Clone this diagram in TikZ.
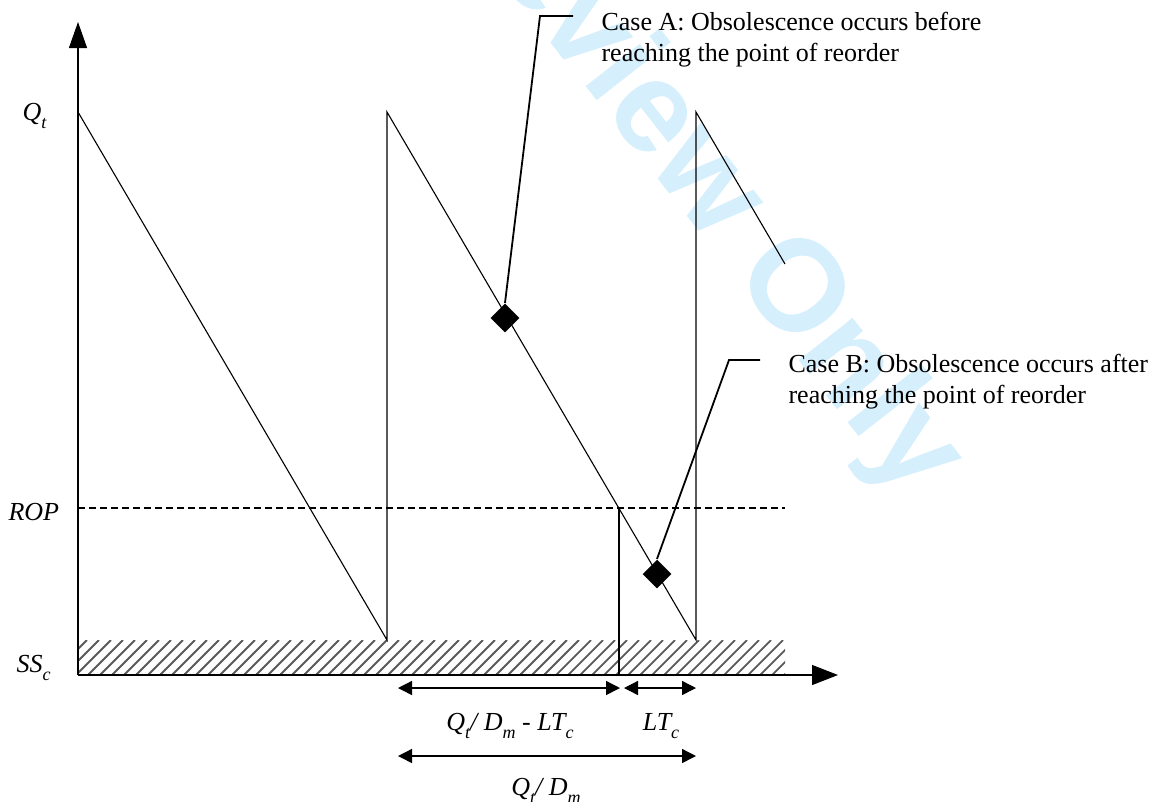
\documentclass[tikz,border=0pt]{standalone}
\usepackage{fontspec}
\setmainfont{Liberation Serif}
\newfontfamily\wmfont{Liberation Sans}
\usetikzlibrary{arrows.meta,shapes.geometric}
\definecolor{wmblue}{RGB}{213,239,252}
\newcommand{\lsub}[1]{\raisebox{-0.32em}{\fontsize{18}{18}\selectfont #1}}
\begin{document}
\begin{tikzpicture}[x=1pt,y=-1pt,line width=1.1pt,
  lbl/.style={font=\fontsize{26}{31}\selectfont\itshape,inner sep=0},
  note/.style={font=\fontsize{26}{31}\selectfont,align=left,inner sep=0,anchor=north west},
  dmark/.style={diamond,fill=black,draw=none,minimum width=29pt,minimum height=29pt,inner sep=0,aspect=1},
  dim/.style={{Triangle[length=14pt,width=14pt]}-{Triangle[length=14pt,width=14pt]},line width=1.4pt},
  leader/.style={line width=1.8pt},
  hatchline/.style={black!65,line width=1.8pt}]
\useasboundingbox (0,0) rectangle (1158,801);
% watermark
\node[rotate=-52,text=wmblue,font=\wmfont\bfseries\fontsize{130}{130}\selectfont,inner sep=0] (wm) at (698,176) {Review Only};
% hatched safety stock band
\begin{scope}
\clip (78,640) rectangle (785,675);
\foreach \x in {40,52,...,800} \draw[hatchline] (\x,675) -- (\x+35,640);
\end{scope}
% key points
\coordinate (O) at (78,675);
\coordinate (ytip) at (78,22);
\coordinate (xtip) at (838,675);
\coordinate (q0) at (78,112);
\coordinate (s1) at (387,640);
\coordinate (q1) at (387,112);
\coordinate (s2) at (696,640);
\coordinate (q2) at (696,112);
\coordinate (q3) at (785,264);
\coordinate (rop0) at (78,508);
\coordinate (rop1) at (785,508);
\coordinate (r) at (619,508);
\coordinate (rb) at (619,675);
% axes
\draw[-{Triangle[length=26pt,width=18pt]}] (O) -- (ytip);
\draw[-{Triangle[length=26pt,width=20pt]}] (O) -- (xtip);
% reorder point line
\draw[dash pattern=on 7pt off 4pt] (rop0) -- (rop1);
% sawtooth
\draw (q0) -- (s1) -- (q1) -- (s2) -- (q2) -- (q3);
\draw (r) -- (rb);
% labels on axis
\node[lbl,anchor=base west] (lq) at (22,120) {Q\lsub{t}};
\node[lbl,anchor=base west] (lrop) at (8,520) {ROP};
\node[lbl,anchor=base west] (lss) at (16,672) {SS\lsub{c}};
% obsolescence markers
\node[dmark] (dA) at (505,318) {};
\node[dmark] (dB) at (657,574) {};
\coordinate (kA) at (540,16);
\coordinate (eA) at (573,16);
\coordinate (kB) at (729,360);
\coordinate (eB) at (760,360);
\draw[leader] (dA.north) -- (kA) -- (eA);
\draw[leader] (dB.north) -- (kB) -- (eB);
\node[note] (ca) at (601,12) {Case A: Obsolescence occurs before\\reaching the point of reorder};
\node[note] (cb) at (788,354) {Case B: Obsolescence occurs after\\reaching the point of reorder};
% dimension arrows
\coordinate (d1a) at (398,688);
\coordinate (d1b) at (620,688);
\coordinate (d2a) at (624,688);
\coordinate (d2b) at (696,688);
\coordinate (d3a) at (398,756);
\coordinate (d3b) at (696,756);
\draw[dim] (d1a) -- (d1b);
\draw[dim] (d2a) -- (d2b);
\draw[dim] (d3a) -- (d3b);
\node[lbl,anchor=base] (l1) at (510,730) {Q\lsub{t}/ D\lsub{m} - LT\lsub{c}};
\node[lbl,anchor=base] (l2) at (661,730) {LT\lsub{c}};
\node[lbl,anchor=base] (l3) at (546,795) {Q\lsub{t}/ D\lsub{m}};
\end{tikzpicture}
\end{document}
